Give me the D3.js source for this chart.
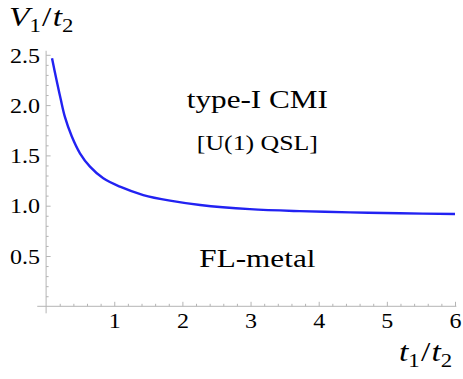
<!DOCTYPE html>
<html>
<head>
<meta charset="utf-8">
<script src="https://cdn.jsdelivr.net/npm/d3@7"></script>
<style>
  body { margin: 0; background: #fff; }
  text { font-family: "Liberation Serif", "Times New Roman", serif; fill: #000; }
</style>
</head>
<body>
<svg id="chart" width="463" height="379"></svg>
<script>
// phase boundary V1/t2 vs t1/t2
const ratioT = [0.087, 0.156, 0.214, 0.277, 0.376, 0.497, 0.644, 0.839, 1.084, 1.426, 1.818, 2.26, 2.99, 3.72, 4.46, 5.19, 6.0];
const ratioV = [2.465, 2.24, 2.06, 1.88, 1.69, 1.521, 1.388, 1.272, 1.189, 1.106, 1.05, 1.007, 0.966, 0.946, 0.934, 0.925, 0.917];

const xTicks = [1, 2, 3, 4, 5, 6];
const yTicks = [0.5, 1.0, 1.5, 2.0, 2.5];

const phaseLabels = [
  {text: "type-I CMI", t: 3.1, v: 1.97, size: 26},
  {text: "[U(1) QSL]", t: 3.1, v: 1.55, size: 21.5},
  {text: "FL-metal", t: 3.1, v: 0.39, size: 26}
];

const sx = 1.2; // Mathematica text is rendered a little wide
const svg = d3.select("#chart");

const x = d3.scaleLinear().domain([0, 6]).range([46.1, 455]);
const y = d3.scaleLinear().domain([0, 2.5]).range([306.3, 54.8]);

const axisColor = "#b4b4b4";

// axis lines (Mathematica style, crossing near the origin)
svg.append("line")
  .attr("x1", x(-0.13)).attr("x2", x(6.02))
  .attr("y1", y(0)).attr("y2", y(0))
  .attr("stroke", axisColor).attr("stroke-width", 1);
svg.append("line")
  .attr("x1", x(0)).attr("x2", x(0))
  .attr("y1", y(-0.07)).attr("y2", y(2.54))
  .attr("stroke", axisColor).attr("stroke-width", 1);

// minor ticks
let xMinor = d3.range(0.2, 6.01, 0.2).filter(v => Math.abs(v - Math.round(v)) > 0.01);
let yMinor = d3.range(0.1, 2.51, 0.1).filter(v => Math.abs(v * 2 - Math.round(v * 2)) > 0.01);

svg.append("g")
  .attr("transform", `translate(0,${y(0)})`)
  .call(d3.axisBottom(x).tickValues(xMinor).tickSize(-2.5).tickFormat(""))
  .call(g => g.select(".domain").remove())
  .call(g => g.selectAll("line").attr("stroke", axisColor));

svg.append("g")
  .attr("transform", `translate(${x(0)},0)`)
  .call(d3.axisLeft(y).tickValues(yMinor).tickSize(-2.5).tickFormat(""))
  .call(g => g.select(".domain").remove())
  .call(g => g.selectAll("line").attr("stroke", axisColor));

// major ticks + labels
svg.append("g")
  .attr("transform", `translate(0,${y(0)})`)
  .call(d3.axisBottom(x).tickValues(xTicks).tickSize(-4.5).tickPadding(8).tickFormat(d3.format("d")))
  .call(g => g.select(".domain").remove())
  .call(g => g.selectAll("line").attr("stroke", axisColor))
  .call(g => g.selectAll("text")
    .attr("font-size", 20)
    .attr("fill", "#000")
    .attr("font-family", "Liberation Serif")
    .attr("transform", `scale(${sx},1)`));

svg.append("g")
  .attr("transform", `translate(${x(0)},0)`)
  .call(d3.axisLeft(y).tickValues(yTicks).tickSize(-4.5).tickPadding(5).tickFormat(d3.format(".1f")))
  .call(g => g.select(".domain").remove())
  .call(g => g.selectAll("line").attr("stroke", axisColor))
  .call(g => g.selectAll("text")
    .attr("font-size", 20)
    .attr("fill", "#000")
    .attr("font-family", "Liberation Serif")
    .attr("dy", "0.36em")
    .attr("transform", `scale(${sx},1)`));

// boundary curve
const line = d3.line()
  .x((d, i) => x(ratioT[i]))
  .y(d => y(d))
  .curve(d3.curveCatmullRom.alpha(0.5));

svg.append("path")
  .attr("d", line(ratioV))
  .attr("fill", "none")
  .attr("stroke", "#2222f2")
  .attr("stroke-width", 2.4);

// phase names
svg.selectAll("text.phase")
  .data(phaseLabels)
  .enter()
  .append("text")
  .attr("class", "phase")
  .attr("text-anchor", "middle")
  .attr("font-size", d => d.size)
  .attr("transform", d => `translate(${x(d.t)},${y(d.v)}) scale(${sx},1)`)
  .text(d => d.text);

// axis labels with subscripts
function fracLabel(px, py, a, b) {
  let t = svg.append("text")
    .attr("transform", `translate(${px},${py}) scale(${sx},1)`)
    .attr("font-size", 28);
  t.append("tspan").attr("font-style", "italic").text(a[0]);
  t.append("tspan").attr("font-size", 19).attr("dy", 6).text(a[1]);
  t.append("tspan").attr("dy", -6).attr("dx", 1).text("/");
  t.append("tspan").attr("font-style", "italic").attr("dx", 1).text(b[0]);
  t.append("tspan").attr("font-size", 19).attr("dy", 6).text(b[1]);
}
fracLabel(9, 26, ["V", "1"], ["t", "2"]);
fracLabel(399, 361, ["t", "1"], ["t", "2"]);
</script>
</body>
</html>
